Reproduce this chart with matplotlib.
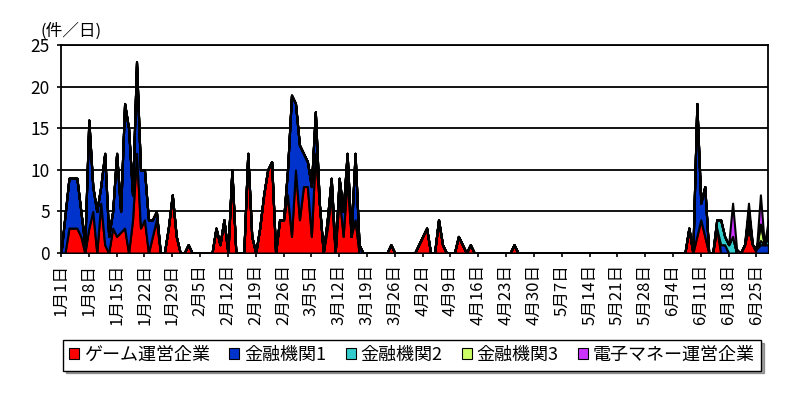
import matplotlib
matplotlib.use('Agg')
import matplotlib.pyplot as plt
from matplotlib.patches import Patch
import numpy as np

plt.rcParams['font.family'] = ['Noto Sans CJK JP', 'DejaVu Sans']

# 1日あたりの件数（1月1日〜6月28日、1行＝1週間）
game = [
    0, 0, 3, 3, 3, 2, 0,        # 1/1
    3, 5, 0, 6, 1, 0, 3,        # 1/8
    2, 2.5, 3, 0, 4, 12, 3,     # 1/15
    4, 0, 2, 4, 0, 0, 3,        # 1/22
    7, 2, 0, 0, 1, 0, 0,        # 1/29
    0, 0, 0, 0, 3, 1, 4,        # 2/5
    0, 10, 0, 0, 0, 12, 2,      # 2/12
    0, 3, 7, 10, 11, 0, 4,      # 2/19
    4, 7, 2, 10, 4, 8, 8,       # 2/26
    2, 12, 6, 0, 3, 7, 0,       # 3/5
    7, 2, 9, 2, 4, 0, 0,        # 3/12
    0, 0, 0, 0, 0, 0, 1,        # 3/19
    0, 0, 0, 0, 0, 0, 1,        # 3/26
    2, 3, 0, 0, 4, 1, 0,        # 4/2
    0, 0, 2, 1, 0, 1, 0,        # 4/9
    0, 0, 0, 0, 0, 0, 0,        # 4/16
    0, 0, 1, 0, 0, 0, 0,        # 4/23
    0, 0, 0, 0, 0, 0, 0,        # 4/30
    0, 0, 0, 0, 0, 0, 0,        # 5/7
    0, 0, 0, 0, 0, 0, 0,        # 5/14
    0, 0, 0, 0, 0, 0, 0,        # 5/21
    0, 0, 0, 0, 0, 0, 0,        # 5/28
    0, 0, 0, 0, 3, 0, 2,        # 6/4
    4, 2, 0, 0, 3, 0, 0,        # 6/11
    0, 0, 0, 0, 1, 3, 1,        # 6/18
    0, 0, 0, 0,                 # 6/25
]
bank1 = [
    0, 4.5, 6, 6, 6, 3, 1,
    13, 3, 5, 2, 11, 2, 2,
    10, 2.5, 15, 15, 3, 11, 7,
    6, 4, 2, 1, 0, 0, 0,
    0, 0, 0, 0, 0, 0, 0,
    0, 0, 0, 0, 0, 0, 0,
    0, 0, 0, 0, 0, 0, 0,
    0, 0, 0, 0, 0, 0, 0,
    0, 3, 17, 8, 9, 4, 3,
    6, 5, 0, 0, 1, 2, 0,
    2, 3, 3, 0, 8, 1, 0,
    0, 0, 0, 0, 0, 0, 0,
    0, 0, 0, 0, 0, 0, 0,
    0, 0, 0, 0, 0, 0, 0,
    0, 0, 0, 0, 0, 0, 0,
    0, 0, 0, 0, 0, 0, 0,
    0, 0, 0, 0, 0, 0, 0,
    0, 0, 0, 0, 0, 0, 0,
    0, 0, 0, 0, 0, 0, 0,
    0, 0, 0, 0, 0, 0, 0,
    0, 0, 0, 0, 0, 0, 0,
    0, 0, 0, 0, 0, 0, 0,
    0, 0, 0, 0, 0, 0, 16,
    2, 6, 0, 0, 0, 1, 1,
    0, 0, 0, 0, 0, 0, 0,
    0.5, 1, 1, 1,
]
bank2 = [0] * 7 * 23 + [
    0, 0, 0, 0, 1, 3, 1,
    1, 2, 0, 0, 0, 1, 0,
    0, 0.5, 0, 1,
]
bank3 = [0] * 7 * 23 + [
    0, 0, 0, 0, 0, 0, 0,
    0, 0, 0, 0, 0, 1, 0,
    0, 2, 0, 1,
]
emoney = [0] * 7 * 23 + [
    0, 0, 0, 0, 0, 0, 0,
    0, 4, 0.5, 0, 0, 1, 0,
    0, 3.5, 0, 1,
]

labels = ['ゲーム運営企業', '金融機関1', '金融機関2', '金融機関3', '電子マネー運営企業']
colors = ['#FF0000', '#0033CC', '#33CCCC', '#CCFF66', '#CC33FF']

tick_labels = ['1月1日', '1月8日', '1月15日', '1月22日', '1月29日', '2月5日',
               '2月12日', '2月19日', '2月26日', '3月5日', '3月12日', '3月19日',
               '3月26日', '4月2日', '4月9日', '4月16日', '4月23日', '4月30日',
               '5月7日', '5月14日', '5月21日', '5月28日', '6月4日', '6月11日',
               '6月18日', '6月25日']

days = np.arange(len(game))

fig = plt.figure(figsize=(8, 3.93), dpi=100)
ax = fig.add_axes([0.07625, 0.3562, 0.8842, 0.5285])

ax.stackplot(days, game, bank1, bank2, bank3, emoney, colors=colors,
             edgecolor='black', linewidth=1.5, zorder=3)

ax.set_xlim(0, len(days) - 1)
ax.set_ylim(0, 25)
ax.set_yticks([0, 5, 10, 15, 20, 25])
ax.yaxis.grid(True, color='black', linewidth=1.3)
ax.set_axisbelow(True)

ax.set_xticks(days[::7])
ax.set_xticklabels(tick_labels, rotation=90, fontsize=12)
ax.tick_params(axis='x', direction='out', length=3, width=1.2, pad=5)
ax.tick_params(axis='y', direction='out', length=3, width=1.2, pad=5, labelsize=12.5)
for s in ax.spines.values():
    s.set_linewidth(1.3)
    s.set_color('black')

fig.text(0.05, 0.921, '(件／日)', fontsize=12, ha='left', va='center')

handles = [Patch(facecolor=c, edgecolor='black', linewidth=0.8) for c in colors]
fig.legend(handles, labels, loc='center', bbox_to_anchor=(0.515, 0.096), ncol=5,
           frameon=True, fancybox=False, shadow=True, edgecolor='black',
           fontsize=13, handlelength=0.55, handleheight=0.55, handletextpad=0.25,
           columnspacing=1.1, borderpad=0.35)

plt.savefig('out.png', dpi=100)
